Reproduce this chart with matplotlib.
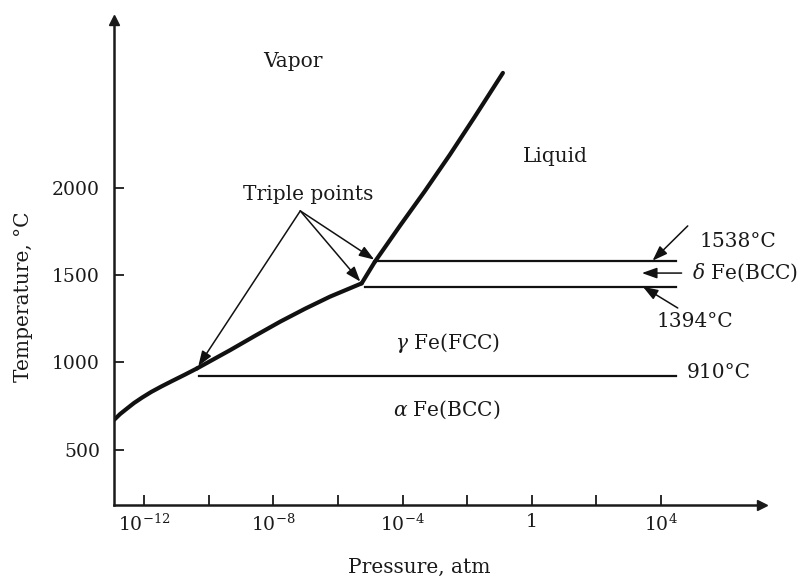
import matplotlib
matplotlib.use("Agg")
import matplotlib.pyplot as plt

plt.rcParams['font.family'] = ['DejaVu Serif']
plt.rcParams['mathtext.fontset'] = 'dejavuserif'

# ---- data (x = log10 pressure [atm], y = temperature [°C]) ----
alpha_vapor_logp = [-12.94, -12.75, -12.54, -12.32, -12.07, -11.79, -11.48, -11.14, -10.77, -10.37]
alpha_vapor_T = [670, 704, 735, 767, 798, 830, 861, 893, 927, 965]

gamma_vapor_logp = [-10.37, -9.34, -8.56, -7.79, -7.02, -6.25, -5.27]
gamma_vapor_T = [965, 1070, 1153, 1233, 1307, 1376, 1452]

delta_vapor_logp = [-5.27, -4.86]
delta_vapor_T = [1452, 1576]

liquid_vapor_logp = [-4.86, -4.09, -3.31, -2.54, -1.77, -0.895]
liquid_vapor_T = [1576, 1780, 1981, 2188, 2405, 2657]

# isotherms: (start logp, end logp, T)
iso_910 = (-10.3, 4.48, 923)
iso_1394 = (-5.17, 4.48, 1434)
iso_1538 = (-4.80, 4.48, 1582)

xticks = [-12, -10, -8, -6, -4, -2, 0, 2, 4]
xticklabels = ['$10^{-12}$', '', '$10^{-8}$', '', '$10^{-4}$', '', '1', '', '$10^{4}$']
yticks = [500, 1000, 1500, 2000]

triple_label_xy = (-7.17, 1867)
triple_tips = [(-10.33, 978), (-5.31, 1462), (-4.88, 1588)]

fig = plt.figure(figsize=(8.02, 5.83), dpi=100)
ax = fig.add_axes([114/802, 1-505/583, 648/802, 485/583])
ax.set_xlim(-12.94, 7.13)
ax.set_ylim(183, 2960)

for s in ['top', 'right']:
    ax.spines[s].set_visible(False)
for s in ['left', 'bottom']:
    ax.spines[s].set_linewidth(1.8)
    ax.spines[s].set_color('#1a1a1a')
ax.plot(1, 0, '>', color='#1a1a1a', markersize=7, transform=ax.transAxes, clip_on=False)
ax.plot(0, 1, '^', color='#1a1a1a', markersize=7, transform=ax.transAxes, clip_on=False)

ax.set_xticks(xticks)
ax.set_xticklabels(xticklabels)
ax.set_yticks(yticks)
ax.tick_params(axis='both', direction='in', length=7, width=1.3, color='#1a1a1a',
               labelsize=13.5, labelcolor='#1a1a1a')
ax.tick_params(axis='y', pad=10)
ax.tick_params(axis='x', pad=6)

lc = '#111111'
for xs, ys in ((alpha_vapor_logp, alpha_vapor_T), (gamma_vapor_logp, gamma_vapor_T),
               (delta_vapor_logp, delta_vapor_T), (liquid_vapor_logp, liquid_vapor_T)):
    ax.plot(xs, ys, color=lc, lw=3, solid_capstyle='round', solid_joinstyle='round')

for x0, x1, T in (iso_910, iso_1394, iso_1538):
    ax.plot([x0, x1], [T, T], color=lc, lw=1.6)

tc = '#1a1a1a'
fs = 14.5
ax.text(-7.39, 2720, 'Vapor', fontsize=fs, ha='center', va='center', color=tc)
ax.text(0.74, 2176, 'Liquid', fontsize=fs, ha='center', va='center', color=tc)
ax.text(-6.94, 1958, 'Triple points', fontsize=fs, ha='center', va='center', color=tc)
ax.text(-2.61, 1111, r'$\gamma$ Fe(FCC)', fontsize=fs, ha='center', va='center', color=tc)
ax.text(-2.63, 727, r'$\alpha$ Fe(BCC)', fontsize=fs, ha='center', va='center', color=tc)
ax.text(4.80, 939, '910°C', fontsize=fs, ha='left', va='center', color=tc)
ax.text(3.87, 1231, '1394°C', fontsize=fs, ha='left', va='center', color=tc)
ax.text(4.95, 1511, r'$\delta$ Fe(BCC)', fontsize=fs, ha='left', va='center', color=tc)
ax.text(5.20, 1694, '1538°C', fontsize=fs, ha='left', va='center', color=tc)

arrowprops = dict(arrowstyle='-|>,head_length=0.7,head_width=0.25', color=lc, lw=1.1,
                  mutation_scale=13, shrinkA=0, shrinkB=0)
for tip in triple_tips:
    ax.annotate('', xy=tip, xytext=triple_label_xy, arrowprops=arrowprops)

ax.annotate('', xy=(3.74, 1582), xytext=(4.83, 1781), arrowprops=arrowprops)
ax.annotate('', xy=(3.41, 1511), xytext=(4.64, 1511), arrowprops=arrowprops)
ax.annotate('', xy=(3.44, 1433), xytext=(4.52, 1311), arrowprops=arrowprops)

fig.text(24/802, 1-297/583, 'Temperature, °C', rotation=90, fontsize=fs,
         ha='center', va='center', color=tc)
fig.text(419/802, 1-567/583, 'Pressure, atm', fontsize=fs, ha='center', va='center', color=tc)

fig.savefig('out.png', dpi=100, facecolor='white')
